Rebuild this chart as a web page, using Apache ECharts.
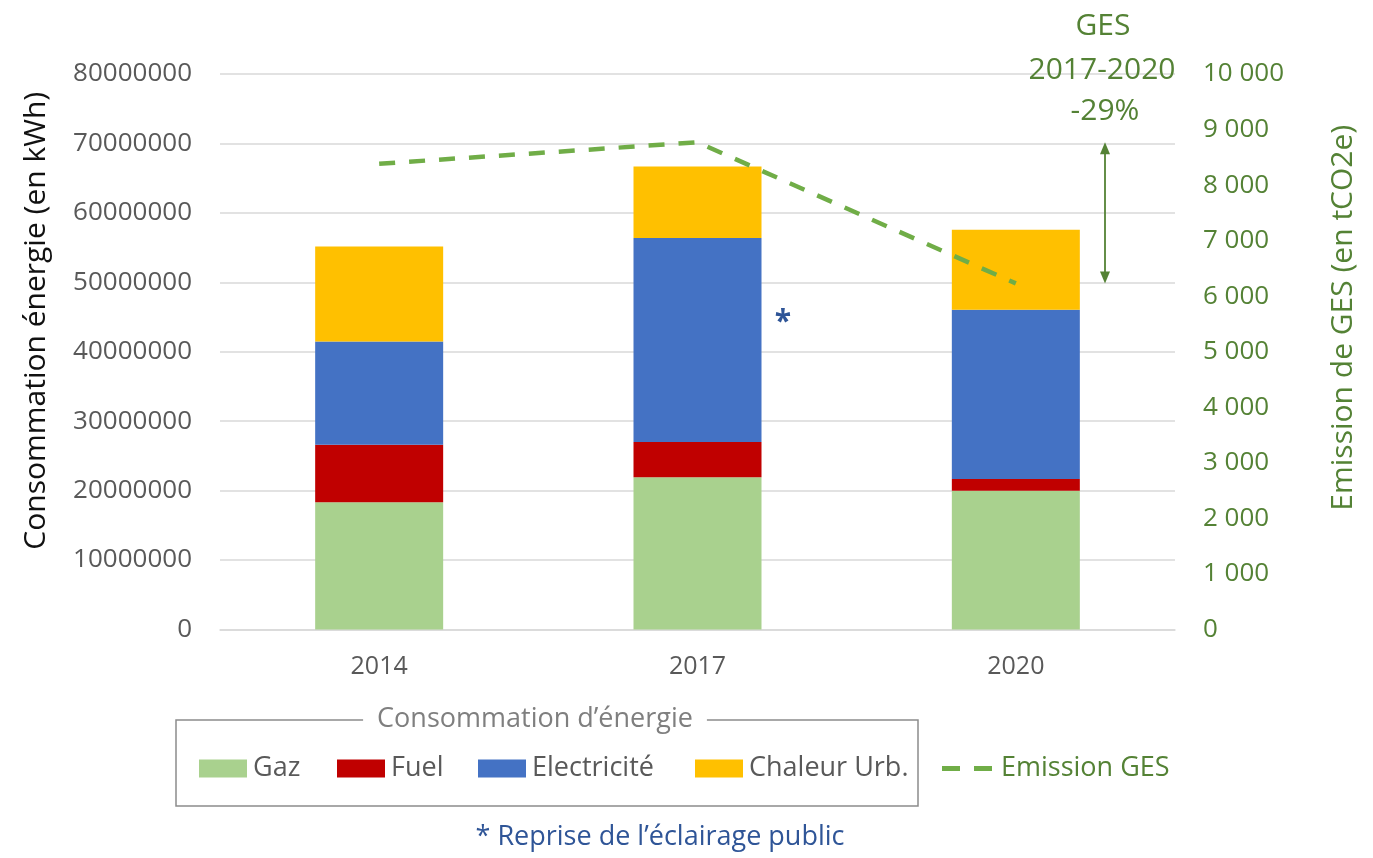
<!DOCTYPE html>
<html>
<head>
<meta charset="utf-8">
<script src="https://cdn.jsdelivr.net/npm/echarts@6/dist/echarts.min.js"></script>
<style>
html,body{margin:0;padding:0;background:#fff;}
#chart{width:1373px;height:858px;}
</style>
</head>
<body>
<div id="chart"></div>
<script>
const categories = ['2014', '2017', '2020'];
const gaz = [18330000, 21930000, 20000000];
const fuel = [8260000, 5090000, 1690000];
const electricite = [14880000, 29350000, 24350000];
const chaleur = [13690000, 10320000, 11530000];
const emissionGES = [8385, 8770, 6230];
const annotationLines = ['GES', '2017-2020', '-29%'];
const legendTitle = 'Consommation d’énergie';
const footnote = '* Reprise de l’éclairage public';

const FONT = 'Open Sans';
const GREY = '#595959';
const GREEN_TXT = '#548235';
const BLUE_TXT = '#2F5597';

const chart = echarts.init(document.getElementById('chart'), null, {renderer: 'canvas'});

function fmtSpace(v) {
  return String(v).replace(/\B(?=(\d{3})+(?!\d))/g, ' ');
}

function legendFor(name, left) {
  return {
    data: [name], left: left, top: 755, padding: 0,
    itemWidth: 48, itemHeight: 18, itemGap: 0,
    icon: 'rect', selectedMode: false,
    textStyle: {fontFamily: FONT, fontSize: 27, color: GREY, padding: [0, 0, 0, 1]}
  };
}

const option = {
  animation: false,
  backgroundColor: '#fff',
  textStyle: {fontFamily: FONT},
  grid: {left: 220, right: 198, top: 74, bottom: 228.5, containLabel: false},
  legend: [
    legendFor('Gaz', 199),
    legendFor('Fuel', 337),
    legendFor('Electricité', 478),
    legendFor('Chaleur Urb.', 695),
    {
      data: ['Emission GES'], left: 942, top: 755, padding: 0,
      itemWidth: 50, itemHeight: 5, selectedMode: false,
      icon: 'path://M0,0H18V5H0Z M32,0H50V5H32Z',
      textStyle: {fontFamily: FONT, fontSize: 27, color: GREEN_TXT, padding: [0, 0, 0, 4]}
    }
  ],
  xAxis: {
    type: 'category', data: categories,
    axisLine: {lineStyle: {color: '#d9d9d9', width: 1.5}},
    axisTick: {show: false},
    axisLabel: {fontFamily: FONT, fontSize: 25, color: GREY, margin: 25}
  },
  yAxis: [
    {
      type: 'value', min: 0, max: 80000000, interval: 10000000,
      name: 'Consommation énergie (en kWh)', nameLocation: 'middle', nameGap: 169,
      nameTextStyle: {fontFamily: FONT, fontSize: 30, color: '#111', padding: [0, 0, 0, 62]},
      axisLine: {show: false}, axisTick: {show: false},
      axisLabel: {fontFamily: FONT, fontSize: 26, color: GREY, margin: 28, formatter: function (v) { return String(v); }},
      splitLine: {lineStyle: {color: '#d9d9d9', width: 1.5}}
    },
    {
      type: 'value', min: 0, max: 10000, interval: 1000, position: 'right',
      name: 'Emission de GES (en tCO2e)', nameLocation: 'middle', nameGap: 153,
      nameRotate: 90,
      nameTextStyle: {fontFamily: FONT, fontSize: 30, color: GREEN_TXT, padding: [0, 0, 0, 68]},
      axisLine: {show: false}, axisTick: {show: false},
      axisLabel: {fontFamily: FONT, fontSize: 26, color: GREEN_TXT, margin: 28, formatter: fmtSpace},
      splitLine: {show: false}
    }
  ],
  series: [
    {name: 'Gaz', type: 'bar', stack: 'total', barWidth: 128, data: gaz, itemStyle: {color: '#A9D18E'}},
    {name: 'Fuel', type: 'bar', stack: 'total', barWidth: 128, data: fuel, itemStyle: {color: '#C00000'}},
    {name: 'Electricité', type: 'bar', stack: 'total', barWidth: 128, data: electricite, itemStyle: {color: '#4472C4'}},
    {name: 'Chaleur Urb.', type: 'bar', stack: 'total', barWidth: 128, data: chaleur, itemStyle: {color: '#FFC000'}},
    {
      name: 'Emission GES', type: 'line', yAxisIndex: 1, data: emissionGES,
      symbol: 'none', z: 5,
      lineStyle: {color: '#70AD47', width: 4.5, type: [16, 14]},
      itemStyle: {color: '#70AD47'}
    }
  ]
};

chart.setOption(option);

// Annotation arrow between the 2017 and 2020 emission values
const yTop = chart.convertToPixel({yAxisIndex: 1}, emissionGES[1]);
const yBot = chart.convertToPixel({yAxisIndex: 1}, emissionGES[2]);
const ax = 1105;
const arrowColor = '#548235';
const annFont = '30px "Open Sans"';

const graphics = [
  {
    type: 'line', z: 10,
    shape: {x1: ax, y1: yTop + 10, x2: ax, y2: yBot - 10},
    style: {stroke: arrowColor, lineWidth: 1.8}
  },
  {
    type: 'polygon', z: 10,
    shape: {points: [[ax, yTop], [ax - 5, yTop + 12], [ax + 5, yTop + 12]]},
    style: {fill: arrowColor}
  },
  {
    type: 'polygon', z: 10,
    shape: {points: [[ax, yBot], [ax - 5, yBot - 12], [ax + 5, yBot - 12]]},
    style: {fill: arrowColor}
  },
  {
    type: 'text', z: 10, x: 1103, y: 26,
    style: {text: annotationLines[0], fill: GREEN_TXT, font: annFont, align: 'center', verticalAlign: 'middle'}
  },
  {
    type: 'text', z: 10, x: 1102, y: 70,
    style: {text: annotationLines[1], fill: GREEN_TXT, font: annFont, align: 'center', verticalAlign: 'middle'}
  },
  {
    type: 'text', z: 10, x: 1105, y: 111,
    style: {text: annotationLines[2], fill: GREEN_TXT, font: annFont, align: 'center', verticalAlign: 'middle'}
  },
  {
    type: 'text', z: 10, x: 783, y: 322,
    style: {text: '*', fill: BLUE_TXT, font: 'bold 30px "Open Sans"', align: 'center', verticalAlign: 'middle'}
  },
  {
    type: 'rect', z: 1,
    shape: {x: 176, y: 720, width: 742, height: 86},
    style: {fill: 'none', stroke: '#8c8c8c', lineWidth: 1.5}
  },
  {
    type: 'text', z: 3, x: 535, y: 719,
    style: {
      text: legendTitle, fill: '#7f7f7f', font: '27px "Open Sans"',
      align: 'center', verticalAlign: 'middle',
      backgroundColor: '#fff', padding: [2, 14]
    }
  },
  {
    type: 'text', z: 3, x: 660, y: 837,
    style: {text: footnote, fill: BLUE_TXT, font: '27px "Open Sans"', align: 'center', verticalAlign: 'middle'}
  }
];

chart.setOption({graphic: graphics});
</script>
</body>
</html>
